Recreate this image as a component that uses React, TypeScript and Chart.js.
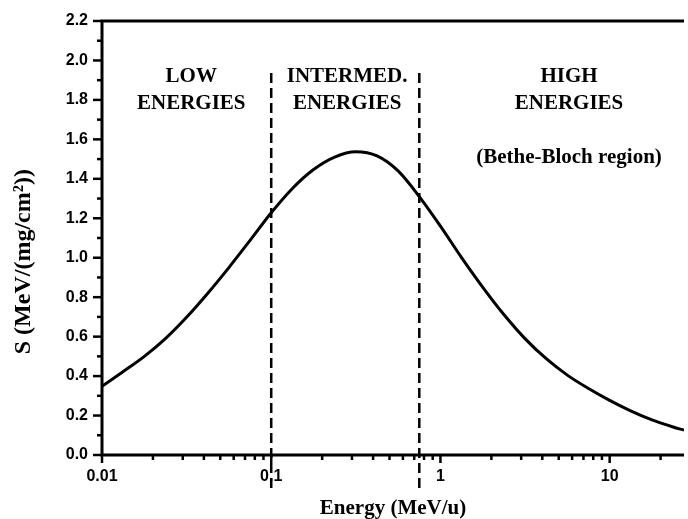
import React, { useEffect, useRef } from 'react';
import { Chart, registerables } from 'chart.js';

Chart.register(...registerables);

// Curve: stopping power S (MeV/(mg/cm2)) vs energy (MeV/u)
const energies = [0.01, 0.0133, 0.0178, 0.0237, 0.0316, 0.0422, 0.0562, 0.075, 0.1, 0.133, 0.178, 0.237, 0.316, 0.422, 0.562, 0.75, 1, 1.33, 1.78, 2.37, 3.16, 4.22, 5.62, 7.5, 10, 13.3, 17.8, 23.7, 27.5];
const stopping = [0.348, 0.422, 0.5, 0.59, 0.698, 0.82, 0.95, 1.088, 1.228, 1.35, 1.447, 1.51, 1.537, 1.516, 1.44, 1.31, 1.16, 1.002, 0.85, 0.712, 0.59, 0.488, 0.405, 0.337, 0.277, 0.224, 0.178, 0.142, 0.126];

// Region boundaries (dashed lines)
const boundaryEnergies = [0.1, 0.75];
const boundaryRange = [1.936, -0.177];

// Axis ranges and labels
const xMin = 0.01;
const xMax = 27.5;
const yMin = 0;
const yMax = 2.2;
const xTickLabels: Record<string, string> = { '0.01': '0.01', '0.1': '0.1', '1': '1', '10': '10' };
const xTitle = 'Energy (MeV/u)';
const yTitle = 'S (MeV/(mg/cm²))';

// Region annotations
const regionLines = [['LOW', 'ENERGIES'], ['INTERMED.', 'ENERGIES'], ['HIGH', 'ENERGIES', '(Bethe-Bloch region)']];
const regionX = [0.0337, 0.281, 5.75];
const regionY = [[1.916, 1.782], [1.916, 1.782], [1.916, 1.782, 1.51]];

const serif = '"Liberation Serif", "Times New Roman", serif';

const framePlugin = {
  id: 'frame',
  afterDatasetsDraw(chart: any) {
    const { ctx, chartArea } = chart;
    const { left, right, top, bottom } = chartArea;
    const xs = chart.scales.x;
    const ys = chart.scales.y;
    ctx.save();
    ctx.strokeStyle = '#000';
    ctx.lineCap = 'butt';
    ctx.lineWidth = 2.5;
    xs.ticks.forEach((t: any) => {
      const v = t.value;
      const e = Math.floor(Math.log10(v) + 1e-9);
      const sig = v / Math.pow(10, e);
      if (Math.abs(sig - Math.round(sig)) > 1e-6) return;
      const major = Math.round(sig) === 1;
      const px = xs.getPixelForValue(v);
      ctx.beginPath();
      ctx.moveTo(px, bottom);
      ctx.lineTo(px, bottom + (major ? 8 : 5));
      ctx.stroke();
    });
    ys.ticks.forEach((t: any) => {
      const v = t.value;
      const major = Math.round(v * 10) % 2 === 0;
      const py = ys.getPixelForValue(v);
      ctx.beginPath();
      ctx.moveTo(left, py);
      ctx.lineTo(left - (major ? 9 : 5), py);
      ctx.stroke();
    });
    ctx.lineWidth = 3;
    ctx.beginPath();
    ctx.moveTo(left, top);
    ctx.lineTo(left, bottom);
    ctx.moveTo(left - 1.5, bottom);
    ctx.lineTo(right, bottom);
    ctx.moveTo(left - 1.5, top);
    ctx.lineTo(right, top);
    ctx.stroke();
    ctx.fillStyle = '#000';
    ctx.font = `bold 21px ${serif}`;
    ctx.textAlign = 'center';
    ctx.textBaseline = 'middle';
    regionLines.forEach((lines, i) => {
      const px = xs.getPixelForValue(regionX[i]);
      lines.forEach((txt, j) => {
        ctx.fillText(txt, px, ys.getPixelForValue(regionY[i][j]));
      });
    });
    // y axis title
    ctx.save();
    ctx.font = `bold 24px ${serif}`;
    ctx.translate(24, ys.getPixelForValue(0.98));
    ctx.rotate(-Math.PI / 2);
    ctx.fillText(yTitle, 0, 0);
    ctx.restore();
    ctx.restore();
  },
};

export default function App() {
  const ref = useRef<HTMLCanvasElement | null>(null);
  useEffect(() => {
    if (!ref.current) return;
    const tickFont = { family: '"Liberation Sans", Arial, sans-serif', weight: 'bold' as const, size: 16 };
    const titleFont = { family: serif, weight: 'bold' as const, size: 21, lineHeight: 1 };
    const chart = new Chart(ref.current, {
      type: 'scatter',
      data: {
        datasets: [
          {
            data: energies.map((e, i) => ({ x: e, y: stopping[i] })),
            showLine: true,
            borderColor: '#000',
            borderWidth: 3,
            pointRadius: 0,
            cubicInterpolationMode: 'monotone',
          } as any,
          ...boundaryEnergies.map((b) => ({
            data: boundaryRange.map((y) => ({ x: b, y })),
            showLine: true,
            borderColor: '#000',
            borderWidth: 2.5,
            borderDash: [10, 5],
            pointRadius: 0,
            clip: false,
          } as any)),
        ],
      },
      options: {
        animation: false,
        responsive: true,
        maintainAspectRatio: false,
        devicePixelRatio: 1,
        layout: { padding: { top: 21, right: 0, left: 0, bottom: 0 } },
        plugins: { legend: { display: false }, tooltip: { enabled: false } },
        scales: {
          x: {
            type: 'logarithmic',
            min: xMin,
            max: xMax,
            grid: { display: true, drawOnChartArea: false, color: 'rgba(0,0,0,0)', tickLength: 8 },
            border: { display: false },
            ticks: {
              autoSkip: false,
              maxRotation: 0,
              color: '#000',
              font: tickFont,
              padding: 4,
              callback: (v: any) => {
                const key = String(Number(Number(v).toPrecision(3)));
                return xTickLabels[key] ?? '';
              },
            },
            title: { display: true, text: xTitle, color: '#000', font: titleFont, padding: { top: 0, bottom: 0 } },
            afterFit: (s: any) => { s.height = 64; },
          },
          y: {
            type: 'linear',
            min: yMin,
            max: yMax,
            grid: { display: true, drawOnChartArea: false, color: 'rgba(0,0,0,0)', tickLength: 8 },
            border: { display: false },
            ticks: {
              stepSize: 0.1,
              autoSkip: false,
              color: '#000',
              font: tickFont,
              padding: 6,
              callback: (v: any) => (Math.round(Number(v) * 10) % 2 === 0 ? Number(v).toFixed(1) : ''),
            },
            title: { display: false },
            afterFit: (s: any) => { s.width = 102; },
          },
        },
      } as any,
      plugins: [framePlugin],
    });
    return () => chart.destroy();
  }, []);
  return (
    <div style={{ position: 'absolute', left: 0, top: 0, width: 688, height: 519, background: '#fff' }}>
      <canvas ref={ref} />
    </div>
  );
}
